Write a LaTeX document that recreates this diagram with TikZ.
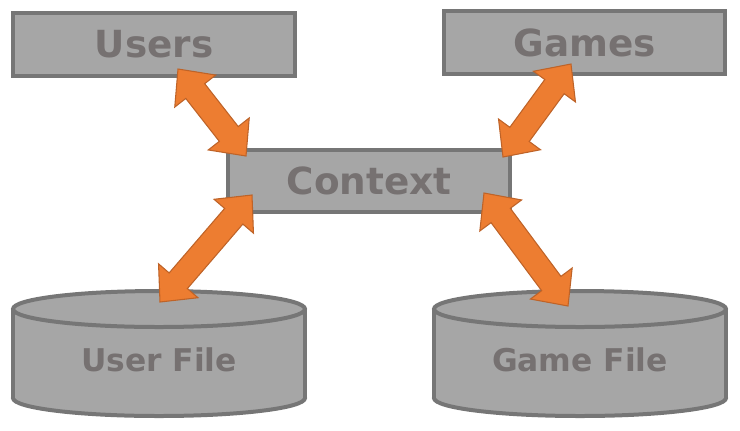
\documentclass[tikz,border=0pt]{standalone}
\usepackage{fontspec}
\setmainfont{DejaVu Sans}
\usetikzlibrary{calc}
\definecolor{boxfill}{HTML}{A6A6A6}
\definecolor{boxline}{HTML}{767676}
\definecolor{boxtext}{HTML}{767171}
\definecolor{arrfill}{HTML}{ED7D31}
\definecolor{arrline}{HTML}{BE6328}
\tikzset{
  box/.style={draw=boxline, fill=boxfill, line width=3pt, minimum width=211pt,
    minimum height=47pt, text=boxtext, font=\fontsize{28}{30}\selectfont\bfseries},
  filetext/.style={text=boxtext, font=\fontsize{23.5}{26}\selectfont\bfseries},
  can/.style={draw=boxline, fill=boxfill, line width=3pt},
  bigarrow/.style={draw=arrline, fill=arrfill, line width=0.8pt, line join=miter},
}
% block arrow with a head at both ends, from #1 to #2
\newcommand{\twoway}[2]{%
  \filldraw[bigarrow] (#1)
    -- ($(#1)!21pt!(#2)!19.5pt!90:(#2)$) -- ($(#1)!21pt!(#2)!9pt!90:(#2)$)
    -- ($(#2)!21pt!(#1)!9pt!-90:(#1)$) -- ($(#2)!21pt!(#1)!19.5pt!-90:(#1)$)
    -- (#2)
    -- ($(#2)!21pt!(#1)!19.5pt!90:(#1)$) -- ($(#2)!21pt!(#1)!9pt!90:(#1)$)
    -- ($(#1)!21pt!(#2)!9pt!-90:(#2)$) -- ($(#1)!21pt!(#2)!19.5pt!-90:(#2)$)
    -- cycle;}
\begin{document}
\begin{tikzpicture}[x=0.75pt, y=-0.75pt]
  \useasboundingbox (0,0) rectangle (740,430);
  \node[box] (users) at (154,44.5) {Users};
  \node[box] (games) at (584.5,42.5) {Games};
  \node[box] (context) at (369,181) {Context};
  % the two files
  \foreach \cx in {159,580} {
    \filldraw[can] (\cx,398) ellipse [x radius=146, y radius=18];
    \fill[boxfill] (\cx-146,309) rectangle (\cx+146,398);
    \draw[can] (\cx-146,309) -- (\cx-146,398);
    \draw[can] (\cx+146,309) -- (\cx+146,398);
    \filldraw[can] (\cx,309) ellipse [x radius=146, y radius=18];
  }
  \node[filetext] (userfile) at (159,360) {User File};
  \node[filetext] (gamefile) at (580,360) {Game File};
  % arrow ends
  \coordinate (a1) at (178,69);
  \coordinate (a2) at (246,156);
  \coordinate (b1) at (571,64);
  \coordinate (b2) at (503,157);
  \coordinate (c1) at (252,195);
  \coordinate (c2) at (160,302);
  \coordinate (d1) at (484,193);
  \coordinate (d2) at (568,306);
  \twoway{a1}{a2}
  \twoway{b1}{b2}
  \twoway{c1}{c2}
  \twoway{d1}{d2}
\end{tikzpicture}
\end{document}
